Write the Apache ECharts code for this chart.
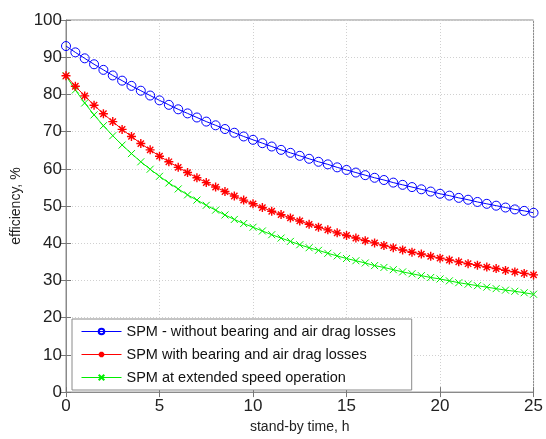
<!DOCTYPE html>
<html>
<head>
<meta charset="utf-8">
<script src="https://cdn.jsdelivr.net/npm/echarts@6/dist/echarts.min.js"></script>
<style>
  html, body { margin: 0; padding: 0; background: #fff; }
  #chart { width: 546px; height: 439px; }
</style>
</head>
<body>
<div id="chart"></div>
<script>
// Stand-by time in hours (half-hour steps)
const hours = [0, 0.5, 1, 1.5, 2, 2.5, 3, 3.5, 4, 4.5, 5, 5.5, 6, 6.5, 7, 7.5, 8, 8.5, 9, 9.5,
  10, 10.5, 11, 11.5, 12, 12.5, 13, 13.5, 14, 14.5, 15, 15.5, 16, 16.5, 17, 17.5, 18, 18.5, 19, 19.5,
  20, 20.5, 21, 21.5, 22, 22.5, 23, 23.5, 24, 24.5, 25];

// Efficiency, % — flywheel SPM without bearing and air drag losses
const effNoLoss = [93.0, 91.3, 89.7, 88.1, 86.6, 85.1, 83.7, 82.3, 81.0, 79.7, 78.4, 77.2, 76.0, 74.9, 73.8,
  72.7, 71.7, 70.7, 69.7, 68.7, 67.8, 66.9, 66.0, 65.1, 64.3, 63.5, 62.7, 61.9, 61.2, 60.4, 59.7, 59.0,
  58.3, 57.6, 57.0, 56.3, 55.7, 55.1, 54.5, 53.9, 53.3, 52.8, 52.2, 51.7, 51.1, 50.6, 50.1, 49.6, 49.1, 48.7, 48.2];

// Efficiency, % — SPM with bearing and air drag losses
const effWithLoss = [85.0, 82.2, 79.6, 77.1, 74.8, 72.7, 70.6, 68.7, 66.8, 65.1, 63.4, 61.9, 60.4, 59.0, 57.6,
  56.3, 55.1, 53.9, 52.7, 51.6, 50.6, 49.6, 48.6, 47.7, 46.8, 46.0, 45.1, 44.3, 43.6, 42.8, 42.1, 41.4,
  40.7, 40.1, 39.4, 38.8, 38.2, 37.6, 37.1, 36.5, 36.0, 35.5, 35.0, 34.5, 34.1, 33.6, 33.2, 32.7, 32.3, 31.9, 31.5];

// Efficiency, % — SPM at extended speed operation
const effExtended = [85.0, 81.2, 77.7, 74.5, 71.6, 68.9, 66.4, 64.1, 61.9, 59.9, 58.0, 56.2, 54.6, 53.0, 51.6,
  50.2, 48.9, 47.6, 46.4, 45.3, 44.3, 43.3, 42.3, 41.4, 40.5, 39.6, 38.8, 38.1, 37.3, 36.6, 35.9, 35.3,
  34.7, 34.0, 33.5, 32.9, 32.3, 31.8, 31.3, 30.8, 30.4, 29.9, 29.4, 29.0, 28.6, 28.2, 27.8, 27.4, 27.1, 26.7, 26.3];

const seriesNames = [
  'SPM - without bearing and air drag losses',
  'SPM with bearing and air drag losses',
  'SPM at extended speed operation'
];

const xTicks = [0, 5, 10, 15, 20, 25];
const yTicks = [0, 10, 20, 30, 40, 50, 60, 70, 80, 90, 100];

const FONT = '"Liberation Sans", Arial, Helvetica, sans-serif';
const pair = (vals) => hours.map((h, i) => [h, vals[i]]);

const starPath = 'path://M5,0L5,10M0,5L10,5M1.5,1.5L8.5,8.5M8.5,1.5L1.5,8.5';
const crossPath = 'path://M0,0L10,10M10,0L0,10';

const chart = echarts.init(document.getElementById('chart'), null, { renderer: 'canvas' });

const gridBox = { left: 66, right: 10, top: 20, bottom: 44 };
const tickStyle = { inside: true, length: 5, lineStyle: { color: '#777', width: 1 } };

chart.setOption({
  backgroundColor: '#fff',
  animation: false,
  grid: Object.assign({ show: true, borderColor: '#8a8a8a', borderWidth: 1, backgroundColor: '#fff' }, gridBox),
  xAxis: [{
    type: 'value', min: xTicks[0], max: xTicks[xTicks.length - 1], interval: 5,
    name: 'stand-by time, h', nameLocation: 'middle', nameGap: 26,
    nameTextStyle: { fontFamily: FONT, fontSize: 14, color: '#222' },
    axisLine: { show: true, lineStyle: { color: '#8a8a8a' } },
    axisTick: tickStyle,
    axisLabel: { fontFamily: FONT, fontSize: 17, color: '#222', margin: 6 },
    splitLine: { show: true, lineStyle: { color: '#d0d0d0', type: [1, 2], width: 1 } }
  }, {
    type: 'value', position: 'top', min: xTicks[0], max: xTicks[xTicks.length - 1], interval: 5,
    axisLine: { show: false }, axisTick: tickStyle, axisLabel: { show: false }, splitLine: { show: false }
  }],
  yAxis: [{
    type: 'value', min: yTicks[0], max: yTicks[yTicks.length - 1], interval: 10,
    name: 'efficiency, %', nameLocation: 'middle', nameGap: 40, nameRotate: 90,
    nameTextStyle: { fontFamily: FONT, fontSize: 14, color: '#222' },
    axisLine: { show: true, lineStyle: { color: '#8a8a8a' } },
    axisTick: tickStyle,
    axisLabel: { fontFamily: FONT, fontSize: 17, color: '#222', margin: 4 },
    splitLine: { show: true, lineStyle: { color: '#d0d0d0', type: [1, 2], width: 1 } }
  }, {
    type: 'value', position: 'right', min: yTicks[0], max: yTicks[yTicks.length - 1], interval: 10,
    axisLine: { show: false }, axisTick: tickStyle, axisLabel: { show: false }, splitLine: { show: false }
  }],
  legend: {
    orient: 'vertical', left: 72, top: 319,
    backgroundColor: '#fff', borderColor: '#8a8a8a', borderWidth: 1,
    padding: [5, 16, 5, 9], itemGap: 8, itemWidth: 40, itemHeight: 7,
    lineStyle: { width: 1 },
    textStyle: { fontFamily: FONT, fontSize: 14.5, color: '#111', lineHeight: 14 },
    data: seriesNames
  },
  series: [{
    name: seriesNames[0], type: 'line', data: pair(effNoLoss),
    symbol: 'circle', symbolSize: 9, showAllSymbol: true,
    lineStyle: { color: '#0000ff', width: 1 },
    itemStyle: { color: 'rgba(0,0,0,0)', borderColor: '#0000ff', borderWidth: 1 },
    z: 3
  }, {
    name: seriesNames[1], type: 'line', data: pair(effWithLoss),
    symbol: starPath, symbolSize: 9, showAllSymbol: true,
    lineStyle: { color: '#ff0000', width: 1 },
    itemStyle: { color: '#ff0000', borderColor: '#ff0000', borderWidth: 1.4 },
    z: 2
  }, {
    name: seriesNames[2], type: 'line', data: pair(effExtended),
    symbol: crossPath, symbolSize: 7, showAllSymbol: true,
    lineStyle: { color: '#00ee00', width: 1 },
    itemStyle: { color: '#00ee00', borderColor: '#00ee00', borderWidth: 1 },
    z: 1
  }]
});
</script>
</body>
</html>
